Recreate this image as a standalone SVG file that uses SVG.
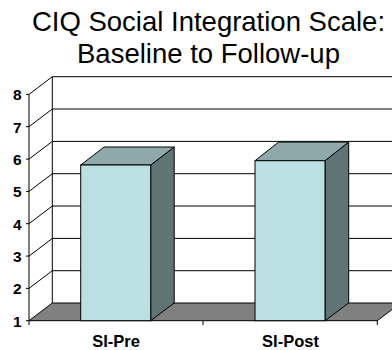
<svg xmlns="http://www.w3.org/2000/svg" width="392" height="350" viewBox="0 0 392 350">
<style>
.title{font-family:"Liberation Sans",Arial,sans-serif;font-size:27.5px;fill:#000;text-anchor:middle}
.tick{font-family:"Liberation Sans",Arial,sans-serif;font-size:15.5px;font-weight:bold;fill:#000;text-anchor:end}
.cat{font-family:"Liberation Sans",Arial,sans-serif;font-size:16.5px;font-weight:bold;fill:#000;text-anchor:middle}
.grid{stroke:#000;stroke-width:1;fill:none}
.axis{stroke:#000;stroke-width:1;fill:none}
.front{fill:#BBE0E3;stroke:#000;stroke-width:1}
.top{fill:#8FA9AA;stroke:#000;stroke-width:1}
.side{fill:#5F7474;stroke:#000;stroke-width:1}
.floor{fill:#808080;stroke:#000;stroke-width:1}
</style>
<rect width="392" height="350" fill="#fff"/>
<g id="title">
<text class="title" x="208.5" y="30.7">CIQ Social Integration Scale:</text>
<text class="title" x="208.5" y="63.3">Baseline to Follow-up</text>
</g>
<g id="walls">
<line class="grid" x1="52.3" y1="76.7" x2="400" y2="76.7"/>
<line class="grid" x1="52.3" y1="109" x2="400" y2="109"/>
<line class="grid" x1="52.3" y1="141.4" x2="400" y2="141.4"/>
<line class="grid" x1="52.3" y1="173.7" x2="400" y2="173.7"/>
<line class="grid" x1="52.3" y1="206" x2="400" y2="206"/>
<line class="grid" x1="52.3" y1="238.4" x2="400" y2="238.4"/>
<line class="grid" x1="52.3" y1="270.7" x2="400" y2="270.7"/>
<line class="grid" x1="52.3" y1="76.7" x2="52.3" y2="303"/>
<line class="grid" x1="29" y1="94.4" x2="52.3" y2="76.7"/>
<line class="grid" x1="29" y1="126.7" x2="52.3" y2="109"/>
<line class="grid" x1="29" y1="159.1" x2="52.3" y2="141.4"/>
<line class="grid" x1="29" y1="191.4" x2="52.3" y2="173.7"/>
<line class="grid" x1="29" y1="223.7" x2="52.3" y2="206"/>
<line class="grid" x1="29" y1="256.1" x2="52.3" y2="238.4"/>
<line class="grid" x1="29" y1="288.4" x2="52.3" y2="270.7"/>
<polygon class="floor" points="29,320.7 377.3,320.7 400.6,303 52.3,303"/>
</g>
<g id="axis">
<line class="axis" x1="29" y1="94.4" x2="29" y2="320.7"/>
<line class="axis" x1="26" y1="94.4" x2="29" y2="94.4"/>
<line class="axis" x1="26" y1="126.7" x2="29" y2="126.7"/>
<line class="axis" x1="26" y1="159.1" x2="29" y2="159.1"/>
<line class="axis" x1="26" y1="191.4" x2="29" y2="191.4"/>
<line class="axis" x1="26" y1="223.7" x2="29" y2="223.7"/>
<line class="axis" x1="26" y1="256.1" x2="29" y2="256.1"/>
<line class="axis" x1="26" y1="288.4" x2="29" y2="288.4"/>
<line class="axis" x1="26" y1="320.7" x2="29" y2="320.7"/>
<line class="axis" x1="29" y1="320.7" x2="29" y2="325"/>
<line class="axis" x1="203" y1="320.7" x2="203" y2="325"/>
<line class="axis" x1="377.3" y1="320.7" x2="377.3" y2="325"/>
<text class="tick" x="21.5" y="100.2">8</text>
<text class="tick" x="21.5" y="132.5">7</text>
<text class="tick" x="21.5" y="164.9">6</text>
<text class="tick" x="21.5" y="197.2">5</text>
<text class="tick" x="21.5" y="229.5">4</text>
<text class="tick" x="21.5" y="261.9">3</text>
<text class="tick" x="21.5" y="294.2">2</text>
<text class="tick" x="21.5" y="326.5">1</text>
<text class="cat" x="116" y="346.5">SI-Pre</text>
<text class="cat" x="290.5" y="346.5">SI-Post</text>
</g>
<g id="bar-si-pre">
<polygon class="side" points="150.7,165 174.2,147 174.2,303 150.7,320.7"/>
<polygon class="top" points="80.7,165 150.7,165 174.2,147 104.2,147"/>
<rect class="front" x="80.7" y="165" width="70" height="155.7"/>
</g>
<g id="bar-si-post">
<polygon class="side" points="325,160.7 348.7,142 348.7,303 325,320.7"/>
<polygon class="top" points="255,160.7 325,160.7 348.7,142 278.7,142"/>
<rect class="front" x="255" y="160.7" width="70" height="160"/>
</g>
</svg>
